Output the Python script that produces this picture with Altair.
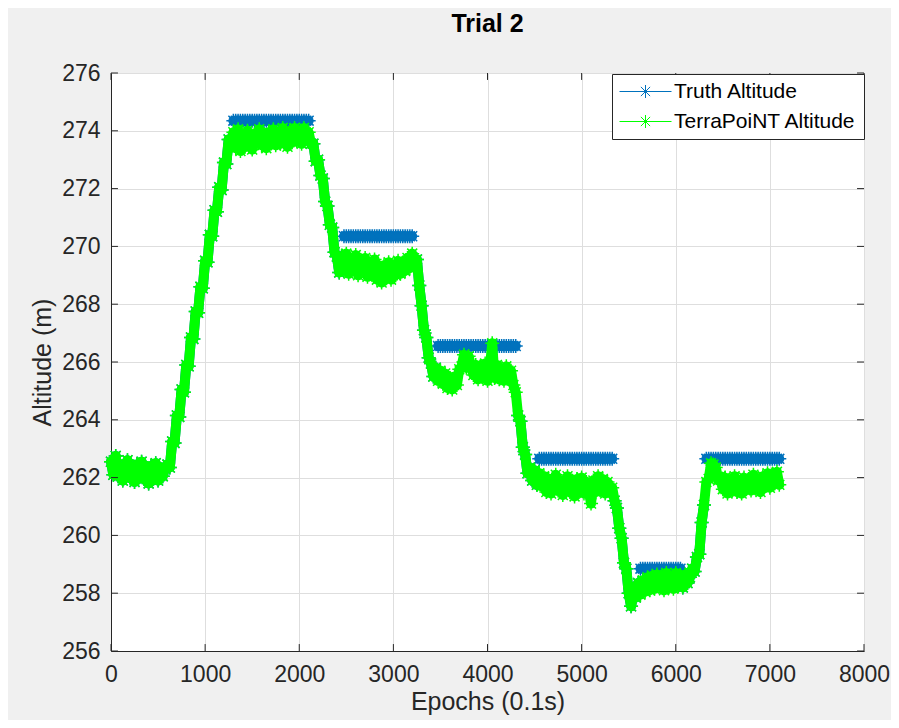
import altair as alt
import pandas as pd

# ---------------- data (one sample every 25 epochs) ----------------
EPOCH_STEP = 25

# TerraPoiNT estimate (green)
terrapoint_altitude = (
    # 0 - 575
    [262.55, 262.10, 262.75, 262.05, 262.40, 261.90, 262.35, 262.60, 262.00, 262.30, 261.85, 262.45,
     262.15, 262.55, 261.95, 262.25, 261.80, 262.40, 262.10, 262.50, 261.90, 262.30, 262.05, 262.35]
    # 600 - 1275
    + [262.45, 262.35, 263.25, 263.20, 264.15, 264.10, 265.05, 264.95, 265.90, 265.85, 266.85, 266.80,
       267.75, 267.70, 268.60, 268.55, 269.50, 269.45, 270.40, 270.35, 271.25, 271.20, 272.05, 271.95,
       272.90, 272.85, 273.70, 273.55]
    # 1300 - 2100
    + [273.95, 273.40, 274.05, 273.30, 273.75, 273.45, 274.00, 273.55, 273.35, 273.90, 273.60, 274.05,
       273.50, 273.80, 273.40, 273.95, 273.65, 274.05, 273.50, 273.85, 273.55, 274.10, 273.70, 273.45,
       274.00, 273.60, 274.10, 273.65, 273.95, 273.55, 274.10, 273.75, 273.95]
    # 2125 - 2425
    + [273.55, 273.55, 272.95, 273.00, 272.45, 272.35, 271.55, 271.40, 270.75, 270.65, 269.80, 269.65,
       269.10]
    # 2450 - 3250
    + [269.65, 269.20, 269.75, 269.05, 269.50, 269.25, 269.70, 269.00, 269.45, 269.15, 269.60, 268.95,
       269.40, 269.10, 269.55, 268.85, 269.30, 268.75, 269.35, 268.90, 269.45, 268.85, 269.25, 269.00,
       269.50, 269.05, 269.40, 269.15, 269.60, 269.25, 269.75, 269.35, 269.55]
    # 3275 - 3425
    + [268.65, 267.95, 267.10, 266.85, 266.15, 265.95, 265.50]
    # 3450 - 4250
    + [265.80, 265.35, 265.70, 265.25, 265.60, 265.10, 265.45, 265.05, 265.50, 265.20, 265.75, 265.85,
       266.25, 265.80, 266.20, 265.85, 265.55, 265.90, 265.40, 265.85, 265.50, 265.95, 265.35, 265.80,
       266.65, 265.45, 265.90, 265.40, 265.75, 265.35, 265.85, 265.50, 265.70]
    # 4275 - 4450
    + [265.20, 264.95, 264.15, 263.95, 263.05, 262.80, 262.15, 262.35]
    # 4475 - 5300
    + [261.90, 262.25, 261.75, 262.15, 261.70, 262.05, 261.50, 261.95, 261.45, 261.85, 262.10, 261.55,
       261.90, 261.40, 261.80, 262.05, 261.50, 261.85, 261.35, 261.95, 261.60, 262.00, 261.45, 261.85,
       261.55, 261.10, 261.90, 261.50, 262.05, 261.60, 261.95, 261.45, 261.85, 261.60]
    # 5325 - 5600
    + [261.65, 261.20, 260.95, 260.25, 259.90, 259.05, 258.85, 258.00, 257.55, 258.15, 257.85, 258.35]
    # 5625 - 6150
    + [257.95, 258.45, 258.05, 258.55, 258.10, 258.60, 258.15, 258.65, 258.25, 258.55, 258.10, 258.70,
       258.20, 258.55, 258.15, 258.70, 258.25, 258.60, 258.20, 258.65, 258.35, 258.55]
    # 6175 - 6450
    + [258.85, 258.75, 259.25, 259.35, 260.45, 261.05, 261.85, 261.95, 262.50, 262.45, 262.35, 261.90]
    # 6475 - 7100
    + [262.05, 261.60, 262.00, 261.45, 261.90, 261.55, 262.05, 261.50, 261.85, 261.45, 262.00, 261.60,
       261.95, 261.55, 262.10, 261.65, 261.95, 261.50, 262.05, 261.70, 262.15, 261.65, 262.10, 261.80,
       262.20, 261.75]
)

# Truth (blue): only the plateaus are visible; elsewhere it lies under the green trace
truth_altitude = (
    # 0 - 575 (hidden under green)
    [262.55, 262.10, 262.75, 262.05, 262.40, 261.90, 262.35, 262.60, 262.00, 262.30, 261.85, 262.45,
     262.15, 262.55, 261.95, 262.25, 261.80, 262.40, 262.10, 262.50, 261.90, 262.30, 262.05, 262.35]
    # 600 - 1275 (climb, hidden)
    + [262.45, 262.35, 263.25, 263.20, 264.15, 264.10, 265.05, 264.95, 265.90, 265.85, 266.85, 266.80,
       267.75, 267.70, 268.60, 268.55, 269.50, 269.45, 270.40, 270.35, 271.25, 271.20, 272.05, 271.95,
       272.90, 272.85, 273.70, 273.55]
    # 1300 - 2100
    + [274.35] * 33
    # 2125 - 2425 (hidden)
    + [273.55, 273.55, 272.95, 273.00, 272.45, 272.35, 271.55, 271.40, 270.75, 270.65, 269.80, 269.65,
       269.10]
    # 2450 - 3250
    + [269.65] + [270.35] * 30 + [269.35, 269.55]
    # 3275 - 3425 (hidden)
    + [268.65, 267.95, 267.10, 266.85, 266.15, 265.95, 265.50]
    # 3450 - 4250
    + [265.80] + [266.55] * 32
    # 4275 - 4450
    + [266.55, 266.55, 264.15, 263.95, 263.05, 262.80, 262.15, 262.35]
    # 4475 - 5300
    + [261.90, 262.25, 261.75] + [262.65] * 31
    # 5325 - 5600
    + [262.65, 261.20, 260.95, 260.25, 259.90, 259.05, 258.85, 258.00, 257.55, 258.15, 257.85, 258.35]
    # 5625 - 6150
    + [258.85] * 18 + [258.20, 258.65, 258.35, 258.55]
    # 6175 - 6450
    + [258.85, 258.75, 259.25, 259.35, 260.45, 261.05, 262.65, 262.65, 262.65, 262.65, 262.65, 262.65]
    # 6475 - 7100
    + [262.65] * 26
)

# pieces of the truth trace (plateaus vs. the parts hidden under the green trace)
truth_piece = ([0] * 52 + [1] * 33 + [2] * 14 + [3] * 30 + [4] * 10 + [5] * 34
               + [6] * 9 + [7] * 32 + [8] * 11 + [9] * 18 + [10] * 10 + [11] * 32)

epochs = list(range(0, EPOCH_STEP * len(truth_altitude), EPOCH_STEP))
series_names = ["Truth Altitude", "TerraPoiNT Altitude"]
series_colors = ["#0072BD", "#00FF00"]
x_ticks = [0, 1000, 2000, 3000, 4000, 5000, 6000, 7000, 8000]
y_ticks = [256, 258, 260, 262, 264, 266, 268, 270, 272, 274, 276]

assert len(truth_altitude) == len(terrapoint_altitude) == len(epochs) == len(truth_piece)

FONT = "Liberation Sans"
INK = "#262626"
ASTERISK = "M-1,0L1,0M0,-1L0,1M-0.71,-0.71L0.71,0.71M-0.71,0.71L0.71,-0.71"
LEGEND_SYMBOL = "M-4,0L4,0" + ASTERISK

xscale = alt.Scale(domain=[0, 8000], nice=False)
yscale = alt.Scale(domain=[256, 276], nice=False, zero=False)
x_axis = alt.Axis(values=x_ticks, title="Epochs (0.1s)", format="d")
y_axis = alt.Axis(values=y_ticks, title="Altitude (m)", format="d")
color_scale = alt.Scale(domain=series_names, range=series_colors)
legend = alt.Legend(
    title=None, orient="none", legendX=501, legendY=1,
    fillColor="white", strokeColor=INK, padding=7,
    symbolType=LEGEND_SYMBOL, symbolSize=169, symbolStrokeWidth=1,
    symbolOffset=16, labelOffset=18, rowPadding=8,
    labelFont=FONT, labelFontSize=21, labelColor="black", labelLimit=400)


def series_layer(values, name, pieces):
    data = pd.DataFrame({"epoch": epochs, "alt": values,
                         "series": [name] * len(epochs), "piece": pieces})
    return alt.Chart(data).mark_line(
        strokeWidth=10, strokeJoin="round", strokeCap="round",
        point=alt.OverlayMarkDef(shape=ASTERISK, filled=False, size=196, strokeWidth=1.5, opacity=1),
    ).encode(
        x=alt.X("epoch:Q", scale=xscale, axis=x_axis),
        y=alt.Y("alt:Q", scale=yscale, axis=y_axis),
        color=alt.Color("series:N", scale=color_scale, legend=legend),
        detail="piece:N",
    )


truth_layer = series_layer(truth_altitude, series_names[0], truth_piece)
terra_layer = series_layer(terrapoint_altitude, series_names[1], [0] * len(epochs))

xt = pd.DataFrame({"t": x_ticks})
yt = pd.DataFrame({"t": y_ticks})
X_TICK = 0.24   # inward tick length in y units (about 7 px)
Y_TICK = 74     # inward tick length in x units (about 7 px)

tick_bottom = alt.Chart(xt).mark_rule(color=INK, strokeWidth=1).encode(
    x=alt.X("t:Q", scale=xscale, axis=x_axis),
    y=alt.YDatum(256, scale=yscale, axis=y_axis), y2=alt.Y2Datum(256 + X_TICK))
tick_top = alt.Chart(xt).mark_rule(color=INK, strokeWidth=1).encode(
    x=alt.X("t:Q", scale=xscale, axis=x_axis),
    y=alt.YDatum(276, scale=yscale, axis=y_axis), y2=alt.Y2Datum(276 - X_TICK))
tick_left = alt.Chart(yt).mark_rule(color=INK, strokeWidth=1).encode(
    y=alt.Y("t:Q", scale=yscale, axis=y_axis),
    x=alt.XDatum(0, scale=xscale, axis=x_axis), x2=alt.X2Datum(Y_TICK))
tick_right = alt.Chart(yt).mark_rule(color=INK, strokeWidth=1).encode(
    y=alt.Y("t:Q", scale=yscale, axis=y_axis),
    x=alt.XDatum(8000, scale=xscale, axis=x_axis), x2=alt.X2Datum(8000 - Y_TICK))

chart = alt.layer(truth_layer, terra_layer, tick_bottom, tick_top, tick_left, tick_right).properties(
    width=753, height=578,
    title=alt.TitleParams("Trial 2", font=FONT, fontSize=25, fontWeight="bold",
                          color="black", anchor="middle", offset=25),
    background="#f0f0f0",
    padding={"left": 103, "top": 65, "right": 27, "bottom": 69},
    autosize=alt.AutoSizeParams(type="none"),
).configure_view(
    fill="white", stroke=INK, strokeWidth=1
).configure_axis(
    grid=True, gridColor="#dedede", gridWidth=1, labelFlush=False,
    domainColor=INK, domainWidth=1, tickSize=0,
    labelFont=FONT, labelFontSize=23, labelColor=INK,
    titleFont=FONT, titleFontSize=25, titleFontWeight="normal", titleColor=INK,
).configure_axisX(
    labelPadding=12, titlePadding=3
).configure_axisY(
    labelPadding=11, titlePadding=6
)

chart.save("out.html", embed_options={"renderer": "svg", "actions": False})
